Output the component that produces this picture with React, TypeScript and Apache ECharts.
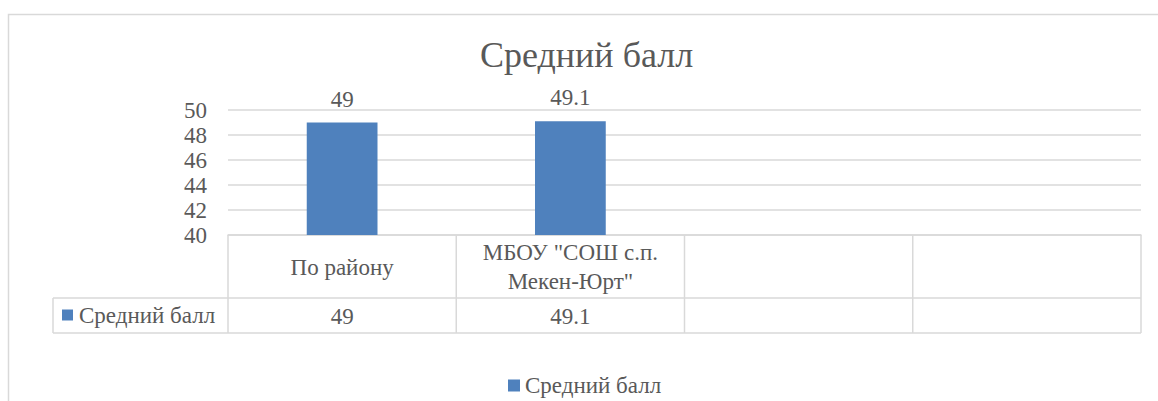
import React, { useEffect, useRef } from 'react';
import * as echarts from 'echarts';

const chartTitle = 'Средний балл';
const seriesName = 'Средний балл';
const categories = ['По району', 'МБОУ "СОШ с.п.\nМекен-Юрт"', '', ''];
const values: (number | null)[] = [49, 49.1, null, null];
const tableValues = ['49', '49.1', '', ''];
const yMin = 40;
const yMax = 50;
const yInterval = 2;

const FONT = 'Liberation Serif';
const TEXT = '#595959';
const GRID = '#d9d9d9';
const BAR = '#4f81bd';
const SMALL = 23;

const W = 1158;
const H = 401;
const GRID_LEFT = 228;
const GRID_RIGHT = 17;
const GRID_TOP = 110;
const GRID_BOTTOM = 166;

const txt = (size: number) => ({
  fontFamily: FONT,
  fontSize: size,
  fontWeight: 'normal' as const,
  color: TEXT,
});

export default function App() {
  const ref = useRef<HTMLDivElement>(null);
  useEffect(() => {
    if (!ref.current) return;
    const chart = echarts.init(ref.current, undefined, { renderer: 'svg' });

    const plotW = W - GRID_LEFT - GRID_RIGHT;
    const band = plotW / categories.length;
    const bounds = categories.map((_, i) => GRID_LEFT + i * band).concat([GRID_LEFT + plotW]);
    const yBase = H - GRID_BOTTOM;
    const row1 = yBase + 63;
    const row2 = yBase + 98;
    const keyLeft = 53;
    const right = GRID_LEFT + plotW;
    const ls = { stroke: GRID, lineWidth: 1.5 };

    const graphic: any[] = [
      {
        type: 'rect',
        shape: { x: 8.5, y: 14.5, width: 1170, height: 400 },
        style: { fill: 'none', stroke: GRID, lineWidth: 1.5 },
        silent: true,
      },
      { type: 'line', shape: { x1: keyLeft, y1: row1, x2: right, y2: row1 }, style: ls, silent: true },
      { type: 'line', shape: { x1: keyLeft, y1: row2, x2: right, y2: row2 }, style: ls, silent: true },
      { type: 'line', shape: { x1: keyLeft, y1: row1, x2: keyLeft, y2: row2 }, style: ls, silent: true },
      ...bounds.map((bx) => ({
        type: 'line',
        shape: { x1: bx, y1: yBase, x2: bx, y2: row2 },
        style: ls,
        silent: true,
      })),
      {
        type: 'rect',
        shape: { x: keyLeft + 9, y: (row1 + row2) / 2 - 6, width: 11, height: 11 },
        style: { fill: BAR },
        silent: true,
      },
      {
        type: 'text',
        x: keyLeft + 26,
        y: (row1 + row2) / 2 - SMALL / 2,
        style: {
          text: seriesName,
          fontFamily: FONT,
          fontSize: SMALL,
          fill: TEXT,
        },
      },
    ];

    const option: any = {
      animation: false,
      title: {
        text: chartTitle,
        left: 480,
        top: 37,
        padding: 0,
        textStyle: txt(36),
      },
      legend: {
        data: [seriesName],
        left: 508,
        top: 374,
        padding: 0,
        icon: 'rect',
        itemWidth: 12,
        itemHeight: 12,
        itemGap: 6,
        textStyle: txt(SMALL),
      },
      grid: { left: GRID_LEFT, right: GRID_RIGHT, top: GRID_TOP, bottom: GRID_BOTTOM, containLabel: false },
      xAxis: [
        {
          type: 'category',
          data: categories,
          axisLine: { show: true, lineStyle: { color: GRID, width: 1.5 } },
          axisTick: { show: false },
          axisLabel: {
            interval: 0,
            margin: 32,
            verticalAlign: 'middle',
            lineHeight: 29,
            ...txt(SMALL),
          },
        },
        {
          type: 'category',
          data: tableValues,
          position: 'bottom',
          axisLine: { show: false },
          axisTick: { show: false },
          axisLabel: {
            interval: 0,
            margin: 81,
            verticalAlign: 'middle',
            ...txt(SMALL),
          },
        },
      ],
      yAxis: {
        type: 'value',
        min: yMin,
        max: yMax,
        interval: yInterval,
        axisLine: { show: false },
        axisTick: { show: false },
        axisLabel: { margin: 21, ...txt(SMALL) },
        splitLine: { show: true, lineStyle: { color: GRID, width: 1.5 } },
      },
      series: [
        {
          name: seriesName,
          type: 'bar',
          data: values,
          barWidth: '31%',
          itemStyle: { color: BAR },
          label: {
            show: true,
            position: 'top',
            distance: 12,
            ...txt(SMALL),
          },
        },
      ],
      graphic,
    };
    chart.setOption(option);

    return () => chart.dispose();
  }, []);
  return (
    <div
      ref={ref}
      style={{ position: 'fixed', left: 0, top: 0, width: W, height: H, background: '#ffffff' }}
    />
  );
}
